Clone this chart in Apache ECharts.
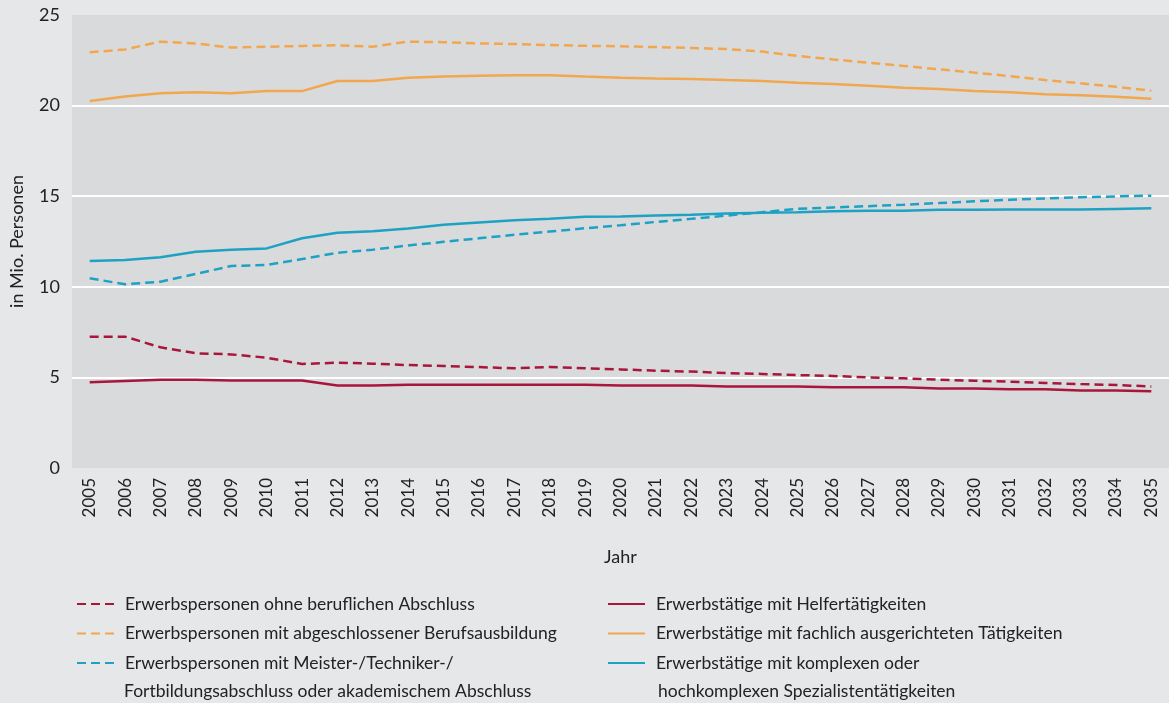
<!DOCTYPE html>
<html>
<head>
<meta charset="utf-8">
<script src="https://cdn.jsdelivr.net/npm/echarts@6/dist/echarts.min.js"></script>
<style>
  html, body { margin: 0; padding: 0; background: #e6e7e9; }
  #chart { width: 1169px; height: 703px; }
</style>
</head>
<body>
<div id="chart"></div>
<script>
// Jahre
var years = [];
for (var y = 2005; y <= 2035; y++) years.push(String(y));

// Erwerbspersonen (gestrichelt)
var epOhne = [7.25, 7.25, 6.66, 6.33, 6.27, 6.09, 5.74, 5.81, 5.76, 5.68, 5.63, 5.57, 5.50, 5.57, 5.50,
  5.44, 5.37, 5.32, 5.24, 5.19, 5.13, 5.08, 5.00, 4.95, 4.87, 4.82, 4.76, 4.69, 4.63, 4.58, 4.50];
var epBeruf = [22.94, 23.10, 23.53, 23.43, 23.20, 23.25, 23.29, 23.33, 23.25, 23.53, 23.50, 23.43, 23.40, 23.34, 23.30,
  23.27, 23.23, 23.18, 23.12, 22.98, 22.74, 22.55, 22.37, 22.19, 22.00, 21.82, 21.63, 21.41, 21.23, 21.04, 20.82];
var epAkad = [10.47, 10.14, 10.28, 10.71, 11.15, 11.20, 11.53, 11.88, 12.05, 12.28, 12.48, 12.68, 12.87, 13.05, 13.23,
  13.40, 13.58, 13.75, 13.93, 14.12, 14.30, 14.38, 14.45, 14.53, 14.62, 14.72, 14.80, 14.88, 14.94, 14.99, 15.03];

// Erwerbstätige (durchgezogen)
var etHelfer = [4.73, 4.80, 4.87, 4.87, 4.83, 4.83, 4.83, 4.55, 4.55, 4.60, 4.60, 4.60, 4.60, 4.60, 4.60,
  4.55, 4.55, 4.55, 4.50, 4.50, 4.50, 4.45, 4.45, 4.45, 4.39, 4.39, 4.34, 4.34, 4.28, 4.28, 4.23];
var etFach = [20.25, 20.50, 20.68, 20.73, 20.68, 20.80, 20.80, 21.36, 21.36, 21.54, 21.60, 21.65, 21.67, 21.67, 21.60,
  21.54, 21.49, 21.47, 21.41, 21.36, 21.26, 21.19, 21.10, 20.99, 20.92, 20.81, 20.73, 20.62, 20.57, 20.49, 20.38];
var etKomplex = [11.42, 11.48, 11.63, 11.94, 12.05, 12.12, 12.68, 12.98, 13.07, 13.22, 13.42, 13.55, 13.67, 13.75, 13.87,
  13.88, 13.93, 13.98, 14.05, 14.08, 14.12, 14.17, 14.20, 14.20, 14.25, 14.25, 14.27, 14.27, 14.27, 14.30, 14.33];

var namesLeft = [
  "Erwerbspersonen ohne beruflichen Abschluss",
  "Erwerbspersonen mit abgeschlossener Berufsausbildung",
  "Erwerbspersonen mit Meister-/Techniker-/"
];
var namesRight = [
  "Erwerbstätige mit Helfertätigkeiten",
  "Erwerbstätige mit fachlich ausgerichteten Tätigkeiten",
  "Erwerbstätige mit komplexen oder"
];

var red = "#a8163c", orange = "#f2a74e", blue = "#1ea2c4";
var font = 'Lato, "Noto Sans", sans-serif';

function line(name, data, color, dashed) {
  return {
    name: name,
    type: "line",
    data: data,
    symbol: "none",
    showSymbol: false,
    lineStyle: { color: color, width: 2.5, type: dashed ? [9, 5] : "solid" },
    itemStyle: { color: color },
    emphasis: { disabled: true }
  };
}

var legendBase = {
  orient: "vertical",
  top: 594,
  padding: 0,
  itemWidth: 37, itemHeight: 12, itemGap: 9.5,
  itemStyle: { opacity: 0 },
  textStyle: { fontSize: 17.5, lineHeight: 20, color: "#222", fontFamily: font, padding: [0, 0, 0, 6] },
  selectedMode: false
};

var chart = echarts.init(document.getElementById("chart"));
chart.setOption({
  backgroundColor: "#e6e7e9",
  animation: false,
  textStyle: { fontFamily: font },
  grid: {
    left: 71, top: 15, width: 1102, height: 453,
    show: true, backgroundColor: "#d9dadc", borderWidth: 0
  },
  xAxis: {
    type: "category",
    data: years,
    boundaryGap: true,
    name: "Jahr",
    nameLocation: "middle",
    nameGap: 80,
    nameTextStyle: { fontSize: 18, color: "#222", fontFamily: font },
    axisLine: { show: false },
    axisTick: { show: false },
    axisLabel: { rotate: 90, fontSize: 17, color: "#222", margin: 10, interval: 0, fontFamily: font }
  },
  yAxis: {
    type: "value",
    min: 0, max: 25, interval: 5,
    name: "in Mio. Personen",
    nameLocation: "middle",
    nameGap: 46,
    nameTextStyle: { fontSize: 18, color: "#222", fontFamily: font },
    axisLine: { show: false },
    axisTick: { show: false },
    axisLabel: { fontSize: 18, color: "#222", margin: 12, fontFamily: font },
    splitLine: { show: true, showMinLine: false, showMaxLine: false, lineStyle: { color: "#ffffff", width: 2 } }
  },
  legend: [
    Object.assign({}, legendBase, { data: namesLeft, left: 76 }),
    Object.assign({}, legendBase, { data: namesRight, left: 607 })
  ],
  graphic: [
    { type: "text", left: 124, top: 682, style: { text: "Fortbildungsabschluss oder akademischem Abschluss", font: "17.5px " + font, fill: "#222" } },
    { type: "text", left: 658, top: 682, style: { text: "hochkomplexen Spezialistentätigkeiten", font: "17.5px " + font, fill: "#222" } }
  ],
  series: [
    line(namesLeft[0], epOhne, red, true),
    line(namesLeft[1], epBeruf, orange, true),
    line(namesLeft[2], epAkad, blue, true),
    line(namesRight[0], etHelfer, red, false),
    line(namesRight[1], etFach, orange, false),
    line(namesRight[2], etKomplex, blue, false)
  ]
});
</script>
</body>
</html>
